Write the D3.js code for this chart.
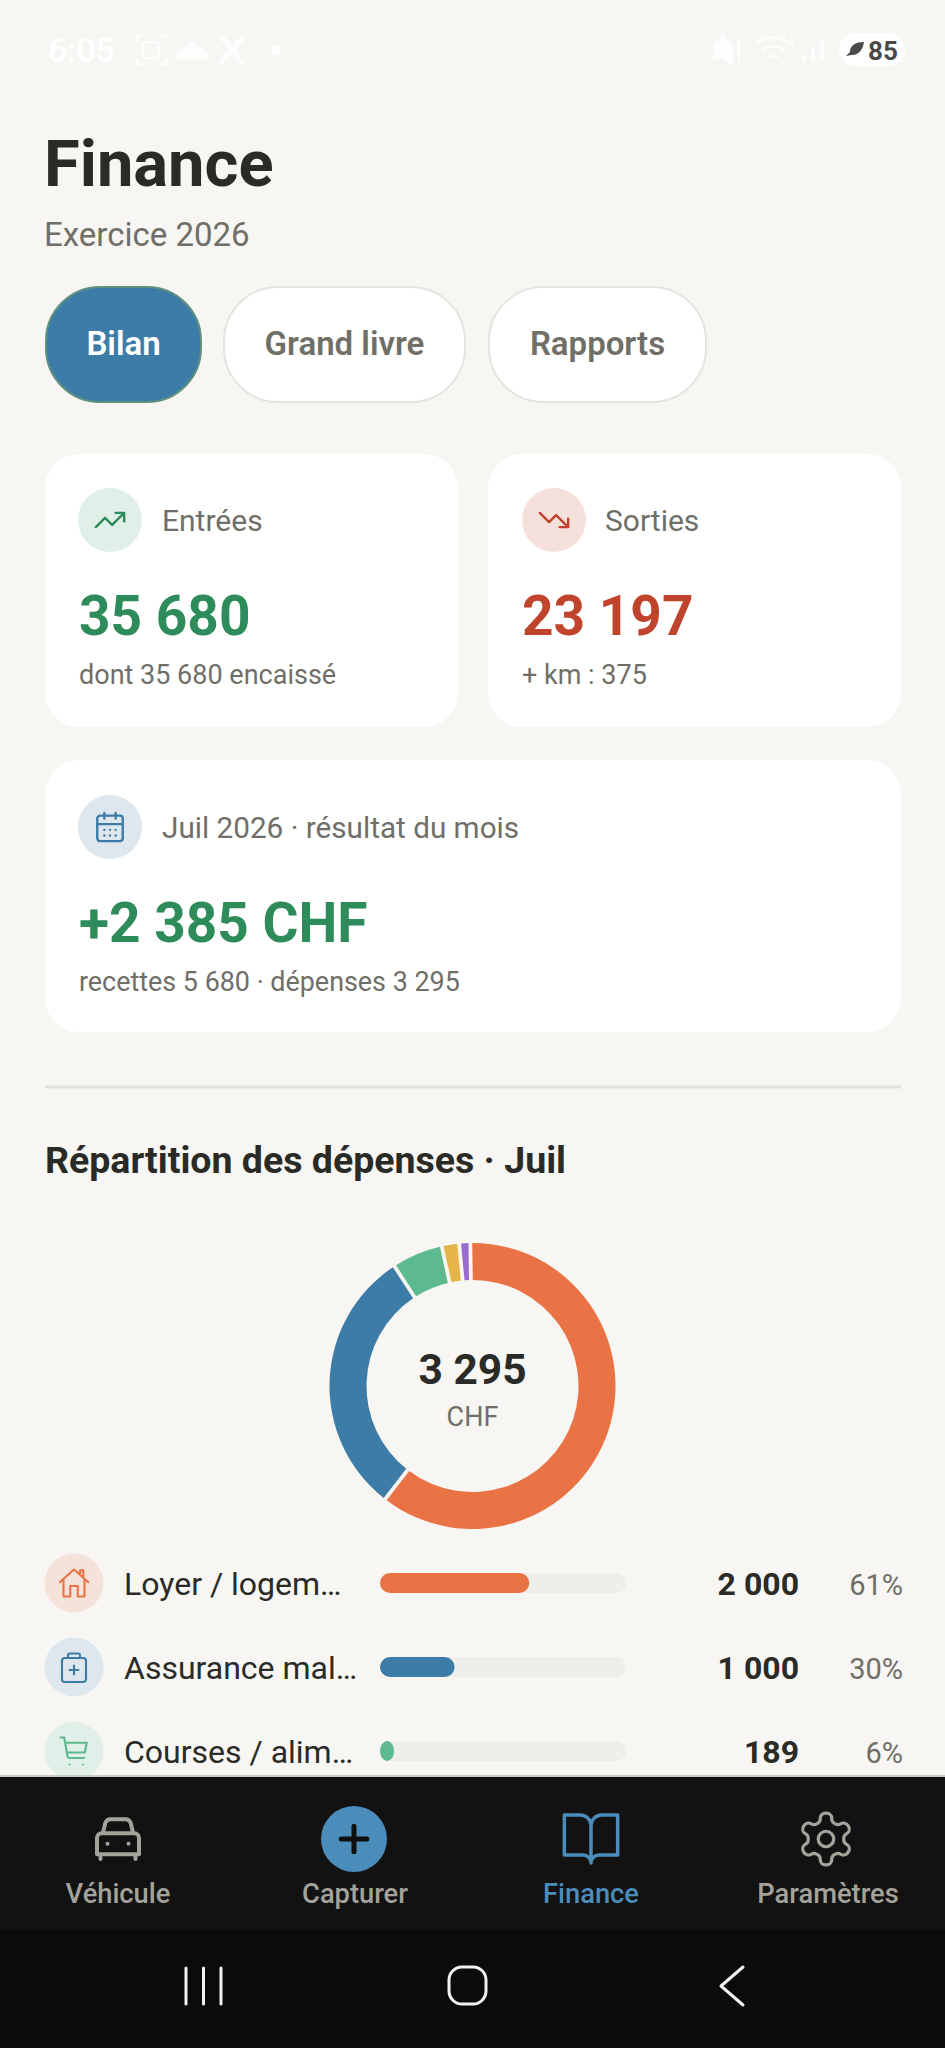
<!DOCTYPE html>
<html lang="fr">
<head>
<meta charset="utf-8">
<title>Finance</title>
<script src="https://cdn.jsdelivr.net/npm/d3@7"></script>
<style>
  html, body { margin: 0; padding: 0; background: #f7f6f2; }
  svg { display: block; font-family: Roboto, sans-serif; }
</style>
</head>
<body>
<svg id="screen" width="945" height="2048"></svg>
<script>
// Expenses of the month
var categories = ["Loyer / logement", "Assurance maladie", "Courses / alimentation", "Divers", "Autres"];
var rowLabels = ["Loyer / logem…", "Assurance mal…", "Courses / alim…"];
var amounts = [2000, 1000, 189, 65, 41];
var amountLabels = ["2 000", "1 000", "189"];
var percentLabels = ["61%", "30%", "6%"];
var sliceColors = ["#ea7346", "#3e7ca8", "#5dba8f", "#e6b548", "#9a6bd0"];
var rowTints = ["#f5e2da", "#dfe7ee", "#e0efe7"];
var totalLabel = "3 295";

// Tabs and nav
var tabs = ["Bilan", "Grand livre", "Rapports"];
var navLabels = ["Véhicule", "Capturer", "Finance", "Paramètres"];

// Icons, on a 24 unit grid
var icons = {
  up: "M22 7l-8.5 8.5-5-5L2 17M16 7h6v6",
  down: "M22 17l-8.5-8.5-5 5L2 7M16 17h6v-6",
  calendar: "M5 4h14a2 2 0 0 1 2 2v14a2 2 0 0 1-2 2H5a2 2 0 0 1-2-2V6a2 2 0 0 1 2-2zM16 2v4M8 2v4M3 10h18M8 14h.01M12 14h.01M16 14h.01M8 18h.01M12 18h.01M16 18h.01",
  house: "M2.5 11.5L12 3l9.5 8.5M5 9.5V21h4.5v-7h5v7H19V9.5M16 6V3.5h2.2V8",
  medical: "M6 6h12a2 2 0 0 1 2 2v12a2 2 0 0 1-2 2H6a2 2 0 0 1-2-2V8a2 2 0 0 1 2-2zM8 6V4a1 1 0 0 1 1-1h6a1 1 0 0 1 1 1v2M12 11v6M9 14h6",
  cart: "M3 3h2.5l2.2 12.5a1.5 1.5 0 0 0 1.5 1.2h9.6M6 6.5h14.5l-1.3 6.5H7.2M9 21h.01M18 21h.01",
  car: "M5.5 10l1-4.2A2.5 2.5 0 0 1 9 4h6a2.5 2.5 0 0 1 2.5 1.8l1 4.2M5 10h14a2 2 0 0 1 2 2v7H3v-7a2 2 0 0 1 2-2zM7.5 14.500h.01M16.500 14.500h.01M4.500 19v2M19.500 19v2",
  plus: "M5 12h14M12 5v14",
  book: "M2 3h6a4 4 0 0 1 4 4v14a3 3 0 0 0-3-3H2zM22 3h-6a4 4 0 0 0-4 4v14a3 3 0 0 1 3-3h7z",
  gear: "M12.22 2h-.44a2 2 0 0 0-2 2v.18a2 2 0 0 1-1 1.73l-.43.25a2 2 0 0 1-2 0l-.15-.08a2 2 0 0 0-2.73.73l-.22.38a2 2 0 0 0 .73 2.73l.15.1a2 2 0 0 1 1 1.72v.51a2 2 0 0 1-1 1.74l-.15.09a2 2 0 0 0-.73 2.73l.22.38a2 2 0 0 0 2.73.73l.15-.08a2 2 0 0 1 2 0l.43.25a2 2 0 0 1 1 1.73V20a2 2 0 0 0 2 2h.44a2 2 0 0 0 2-2v-.18a2 2 0 0 1 1-1.73l.43-.25a2 2 0 0 1 2 0l.15.08a2 2 0 0 0 2.73-.73l.22-.39a2 2 0 0 0-.73-2.73l-.15-.08a2 2 0 0 1-1-1.74v-.5a2 2 0 0 1 1-1.74l.15-.09a2 2 0 0 0 .73-2.73l-.22-.38a2 2 0 0 0-2.73-.73l-.15.08a2 2 0 0 1-2 0l-.43-.25a2 2 0 0 1-1-1.73V4a2 2 0 0 0-2-2zM15 12a3 3 0 1 1-6 0 3 3 0 0 1 6 0z"
};

var svg = d3.select("#screen");
var ink = "#2a2a26", muted = "#6f6f68", green = "#2e8b5a", red = "#c0432c", blue = "#3e7ca8";

svg.append("rect").attr("width", 945).attr("height", 2048).attr("fill", "#f7f6f2");

function label(x, y, txt, size, weight, color, anchor) {
  return svg.append("text")
    .attr("x", x).attr("y", y)
    .attr("font-size", size)
    .attr("font-weight", weight)
    .attr("fill", color)
    .attr("text-anchor", anchor || "start")
    .text(txt);
}

function icon(name, cx, cy, size, color, width) {
  var k = size / 24;
  svg.append("path")
    .attr("d", icons[name])
    .attr("transform", `translate(${cx - size / 2},${cy - size / 2}) scale(${k})`)
    .attr("fill", "none")
    .attr("stroke", color)
    .attr("stroke-width", width / k)
    .attr("stroke-linecap", "round")
    .attr("stroke-linejoin", "round");
}

function card(x, y, w, h) {
  svg.append("rect").attr("x", x).attr("y", y).attr("width", w).attr("height", h)
    .attr("rx", 34).attr("fill", "#ffffff");
}

// Status bar, white on the light page
label(48, 62, "6:05", 34, 500, "#ffffff");
var statusIcons = svg.append("g").attr("fill", "none").attr("stroke", "#ffffff").attr("stroke-width", 2.5).attr("opacity", 0.85);
statusIcons.append("rect").attr("x", 143).attr("y", 42).attr("width", 16).attr("height", 16).attr("rx", 3);
statusIcons.append("path").attr("d", "M137 42v-6h6M160 36h6v6M166 58v6h-6M143 64h-6v-6");
statusIcons.append("path").attr("d", "M177 58h30c0-8-6-9-8-9-2-8-12-8-14 0-4 1-8 3-8 9z").attr("fill", "#ffffff");
statusIcons.append("path").attr("d", "M221 36l22 28M244 36l-24 28").attr("stroke-width", 5);
svg.append("circle").attr("cx", 276).attr("cy", 50).attr("r", 5).attr("fill", "#ffffff");
statusIcons.append("path").attr("d", "M714 44l9-8 9 10v18l-9-6h-9zM739 38v24").attr("fill", "#ffffff");
statusIcons.append("path").attr("d", "M756 44c10-9 24-9 34 0M762 51c7-6 15-6 22 0M768 58c4-3 7-3 10 0M792 36v10");
statusIcons.append("path").attr("d", "M804 62v-6M813 62v-14M822 62v-22").attr("stroke-width", 4);
svg.append("rect").attr("x", 839).attr("y", 33).attr("width", 66).attr("height", 33).attr("rx", 16.5).attr("fill", "#ffffff");
svg.append("path").attr("d", "M846 56c5-1 5-1 6-1 7 0 11-6 12-13-8 0-14 3-14 10z").attr("fill", "#4a4a48");
label(868, 60, "85", 26, 700, "#4a4a48");

// Header
label(44, 186, "Finance", 65, 700, ink);
label(44, 246, "Exercice 2026", 33, 400, muted);

// Tabs
var tabBoxes = [[45, 157], [223, 243], [488, 219]];
tabs.forEach(function (t, i) {
  var box = tabBoxes[i];
  svg.append("rect")
    .attr("x", box[0] + 1).attr("y", 287).attr("width", box[1] - 2).attr("height", 115)
    .attr("rx", 54)
    .attr("fill", i === 0 ? blue : "#ffffff")
    .attr("stroke", i === 0 ? "#5f9080" : "#e6e4de")
    .attr("stroke-width", 2);
  label(box[0] + box[1] / 2, 355, t, 33, 600, i === 0 ? "#ffffff" : muted, "middle");
});

// Summary cards
card(45, 454, 413, 273);
card(488, 454, 413, 273);
card(45, 760, 856, 272);

svg.append("circle").attr("cx", 110).attr("cy", 520).attr("r", 32).attr("fill", "#e0efe7");
icon("up", 110, 520, 34, green, 2.4);
label(162, 531, "Entrées", 30, 400, muted);
label(79, 635, "35 680", 55, 700, green);
label(79, 684, "dont 35 680 encaissé", 27, 400, muted);

svg.append("circle").attr("cx", 554).attr("cy", 520).attr("r", 32).attr("fill", "#f6e0dc");
icon("down", 554, 520, 34, red, 2.4);
label(605, 531, "Sorties", 30, 400, muted);
label(522, 635, "23 197", 55, 700, red);
label(522, 684, "+ km : 375", 27, 400, muted);

svg.append("circle").attr("cx", 110).attr("cy", 827).attr("r", 32).attr("fill", "#dfe7ee");
icon("calendar", 110, 827, 34, blue, 2.4);
label(162, 838, "Juil 2026 · résultat du mois", 29.7, 400, muted);
label(79, 942, "+2 385 CHF", 55, 700, green);
label(79, 991, "recettes 5 680 · dépenses 3 295", 26.9, 400, muted);

svg.append("line").attr("x1", 45).attr("x2", 901).attr("y1", 1087).attr("y2", 1087)
  .attr("stroke", "#e4e3dd").attr("stroke-width", 3);

label(45, 1173, "Répartition des dépenses · Juil", 37.5, 700, ink);

// Donut, the gaps are cut out of the slices and do not change their share
var total = d3.sum(amounts);
var pie = d3.pie().sort(null)
  .startAngle(-0.015).endAngle(2 * Math.PI - 0.015);
var arc = d3.arc().innerRadius(106).outerRadius(143).padAngle(0.03).padRadius(125);

svg.append("g")
  .attr("transform", "translate(472.5,1386)")
  .selectAll("path")
  .data(pie(amounts))
  .enter().append("path")
  .attr("d", arc)
  .attr("fill", function (d, i) { return sliceColors[i]; });

label(472.5, 1383.5, totalLabel, 42.5, 700, ink, "middle");
label(472.5, 1426, "CHF", 27, 400, muted, "middle");

// Category rows
var rowY = d3.scaleLinear().domain([0, 2]).range([1583, 1751]);
var barX = d3.scaleLinear().domain([0, total]).range([0, 246]);
var rowIcons = ["house", "medical", "cart"];

rowLabels.forEach(function (name, i) {
  var y = rowY(i);
  svg.append("circle").attr("cx", 74).attr("cy", y).attr("r", 29.5).attr("fill", rowTints[i]);
  icon(rowIcons[i], 74, y, 36, sliceColors[i], 2.1);
  label(124, y + 12, name, 32, 400, ink);
  svg.append("rect").attr("x", 380).attr("y", y - 10).attr("width", 246).attr("height", 20)
    .attr("rx", 10).attr("fill", "#efeeea");
  svg.append("rect").attr("x", 380).attr("y", y - 10).attr("width", barX(amounts[i])).attr("height", 20)
    .attr("rx", Math.min(10, barX(amounts[i]) / 2)).attr("ry", 10).attr("fill", sliceColors[i]);
  label(799, y + 12, amountLabels[i], 32, 700, ink, "end");
  label(903, y + 12, percentLabels[i], 29, 400, muted, "end");
});

// Bottom nav, on top of the scrolled list
svg.append("rect").attr("x", 0).attr("y", 1776).attr("width", 945).attr("height", 154).attr("fill", "#121212");
svg.append("rect").attr("x", 0).attr("y", 1775).attr("width", 945).attr("height", 2).attr("fill", "#c9c9c4");
svg.append("rect").attr("x", 0).attr("y", 1929).attr("width", 945).attr("height", 119).attr("fill", "#0b0b0b");

var navGray = "#a3a39b", navBlue = "#4a8cba";
var navX = [118, 355, 591, 828];
icon("car", 118, 1838, 56, navGray, 4);
svg.append("circle").attr("cx", 354).attr("cy", 1839).attr("r", 33).attr("fill", navBlue);
icon("plus", 354, 1839, 44, "#0f0f0f", 5);
icon("book", 591, 1839, 64, navBlue, 3.5);
icon("gear", 826, 1839, 62, navGray, 3.2);
navLabels.forEach(function (t, i) {
  label(navX[i], 1903, t, 27.3, 500, i === 2 ? navBlue : navGray, "middle");
});

// Android system bar
var sysBar = svg.append("g").attr("fill", "none").attr("stroke", "#f2f2f2").attr("stroke-width", 3).attr("stroke-linecap", "round");
sysBar.append("path").attr("d", "M186 1968v36M203.5 1968v36M221 1968v36");
sysBar.append("rect").attr("x", 449).attr("y", 1967).attr("width", 37).attr("height", 37).attr("rx", 13);
sysBar.append("path").attr("d", "M743 1967L721 1986L743 2005").attr("stroke-linejoin", "round");
</script>
</body>
</html>
